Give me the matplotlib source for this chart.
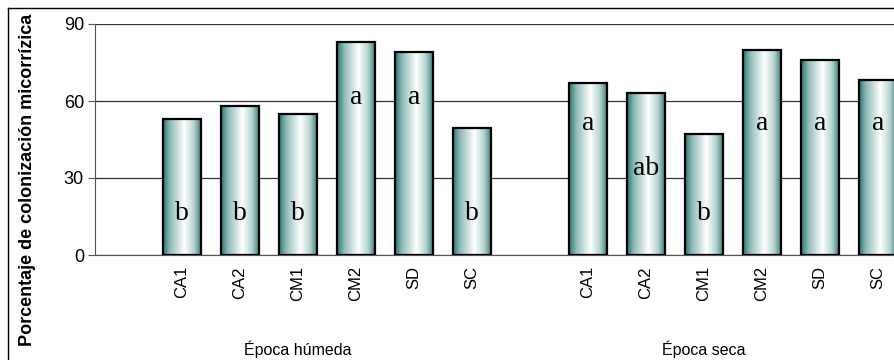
import numpy as np
import matplotlib
matplotlib.use("Agg")
import matplotlib.pyplot as plt
from matplotlib.colors import LinearSegmentedColormap
from matplotlib.lines import Line2D

# datos
categorias = ["CA1", "CA2", "CM1", "CM2", "SD", "SC"]
humeda = [53, 58, 55, 83, 79, 49.5]
seca = [67, 63, 47, 80, 76, 68]
letras_humeda = ["b", "b", "b", "a", "a", "b"]
letras_seca = ["a", "ab", "b", "a", "a", "a"]
letras_y_humeda = [13.5, 13.5, 13.5, 59, 59, 13.5]
letras_y_seca = [48.7, 31, 13.6, 48.7, 48.7, 48.7]
grupos = ["Época húmeda", "Época seca"]

plt.rcParams["font.family"] = ["Liberation Sans", "DejaVu Sans"]

fig = plt.figure(figsize=(8.94, 3.6), dpi=100)
W, H = 894, 360
ax = fig.add_axes([95 / W, (H - 255) / H, (907 - 95) / W, (255 - 24) / H])

pos_h = np.arange(1, 7)
pos_s = np.arange(8, 14)
pos = np.concatenate([pos_h, pos_s])
valores = humeda + seca
letras = letras_humeda + letras_seca
letras_y = letras_y_humeda + letras_y_seca

cmap = LinearSegmentedColormap.from_list(
    "teal", [(0, "#2a7570"), (0.18, "#8dbab6"), (0.55, "#ffffff"),
             (0.8, "#b5d3d0"), (1, "#2a7570")])
grad = np.linspace(0, 1, 256).reshape(1, -1)

ancho = 0.66
barras = ax.bar(pos, valores, width=ancho, facecolor="none",
                edgecolor="black", linewidth=1.6, zorder=3)
for b in barras:
    x0 = b.get_x()
    im = ax.imshow(grad, extent=[x0, x0 + ancho, 0, b.get_height()],
                   aspect="auto", cmap=cmap, zorder=2.5)
    im.set_clip_path(b)

for x, l, y in zip(pos, letras, letras_y):
    ax.text(x, y, l, ha="center", va="baseline", fontsize=20,
            family="Liberation Serif", zorder=4)

ax.set_xlim(-0.5, 13.5)
ax.set_ylim(0, 90)
ax.set_yticks([0, 30, 60, 90])
ax.tick_params(axis="y", labelsize=13, length=5, width=0.8, color="#555555", pad=3)
ax.set_xticks(pos)
ax.set_xticklabels(categorias * 2, rotation=90, fontsize=12)
ax.tick_params(axis="x", length=0, pad=8)
ax.grid(axis="y", color="#333333", linewidth=0.9, zorder=1)
for s in ["top", "right"]:
    ax.spines[s].set_visible(False)
ax.spines["left"].set_color("#555555")
ax.spines["bottom"].set_color("#555555")

for x, g in zip([pos_h[2], pos_s[2]], grupos):
    ax.text(x, -0.41, g, transform=ax.get_xaxis_transform(),
            ha="center", va="center", fontsize=11.5)

fig.text(28 / W, 0.5, "Porcentaje de colonización micorrízica", rotation=90,
         ha="center", va="center", fontsize=13, fontweight="bold")

# marco
fig.add_artist(Line2D([8 / W, 8 / W], [0, 1 - 8 / H], transform=fig.transFigure,
                      color="black", linewidth=1))
fig.add_artist(Line2D([8 / W, 1], [1 - 8 / H, 1 - 8 / H], transform=fig.transFigure,
                      color="black", linewidth=1))

fig.savefig("out.png", dpi=100)
